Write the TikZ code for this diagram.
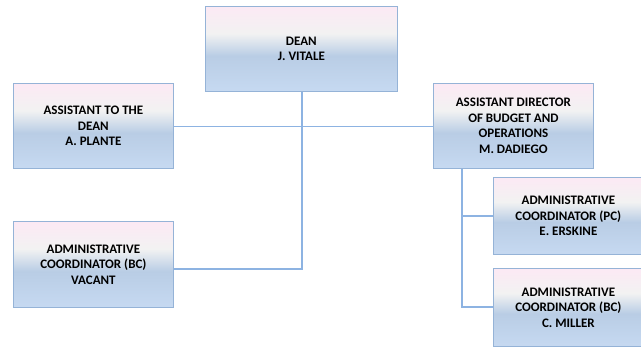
\documentclass[tikz,border=0pt]{standalone}
\usepackage{fontspec}
\setmainfont{Carlito}[BoldFont={Carlito Bold}]
\definecolor{boxtop}{HTML}{FCE9F4}
\definecolor{boxmid}{HTML}{F2F2F2}
\definecolor{boxblue}{HTML}{B9CDE5}
\definecolor{boxbot}{HTML}{C6D9F1}
\definecolor{boxedge}{HTML}{95B3D7}
\definecolor{linkcol}{HTML}{8DB3E2}
\definecolor{txt}{HTML}{000000}
\pgfdeclareverticalshading{boxshade}{100bp}{color(0bp)=(boxbot); color(25bp)=(boxbot); color(46bp)=(boxblue); color(59bp)=(boxmid); color(75bp)=(boxtop); color(100bp)=(boxtop)}
\tikzset{
  orgbox/.style={draw=boxedge, line width=0.8pt, shading=boxshade, anchor=north west,
    inner sep=2pt, align=center, text=txt, font=\bfseries\fontsize{13}{15.5}\selectfont},
  link/.style={draw=linkcol, line width=1.2pt}
}
\begin{document}
\begin{tikzpicture}[x=1pt,y=-1pt]
\useasboundingbox (0,0) rectangle (641,348);
\node[orgbox, minimum width=192pt, minimum height=85pt] (dean) at (205,6) {DEAN\\J. VITALE};
\node[orgbox, minimum width=160pt, minimum height=85pt] (asst) at (13,83) {ASSISTANT TO THE\\DEAN\\A. PLANTE};
\node[orgbox, minimum width=160pt, minimum height=85pt] (dir) at (433,83) {ASSISTANT DIRECTOR\\OF BUDGET AND\\OPERATIONS\\M. DADIEGO};
\node[orgbox, minimum width=160pt, minimum height=86pt] (vac) at (13,221) {ADMINISTRATIVE\\COORDINATOR (BC)\\VACANT};
\node[orgbox, minimum width=150pt, minimum height=77pt] (ers) at (493,177) {ADMINISTRATIVE\\COORDINATOR (PC)\\E. ERSKINE};
\node[orgbox, minimum width=150pt, minimum height=78pt] (mil) at (493,268) {ADMINISTRATIVE\\COORDINATOR (BC)\\C. MILLER};
\coordinate (deanfoot) at (302,269);
\coordinate (dirfoot) at (462,307);
\draw[link] (dean.south -| deanfoot) -- (deanfoot) -- (vac.east |- deanfoot);
\draw[link] (asst.east |- 0,126.5) -- (dir.west |- 0,126.5);
\draw[link] (dir.south -| dirfoot) -- (dirfoot) -- (mil.west |- dirfoot);
\draw[link] (dir.south -| dirfoot) |- (ers.west);
\end{tikzpicture}
\end{document}
